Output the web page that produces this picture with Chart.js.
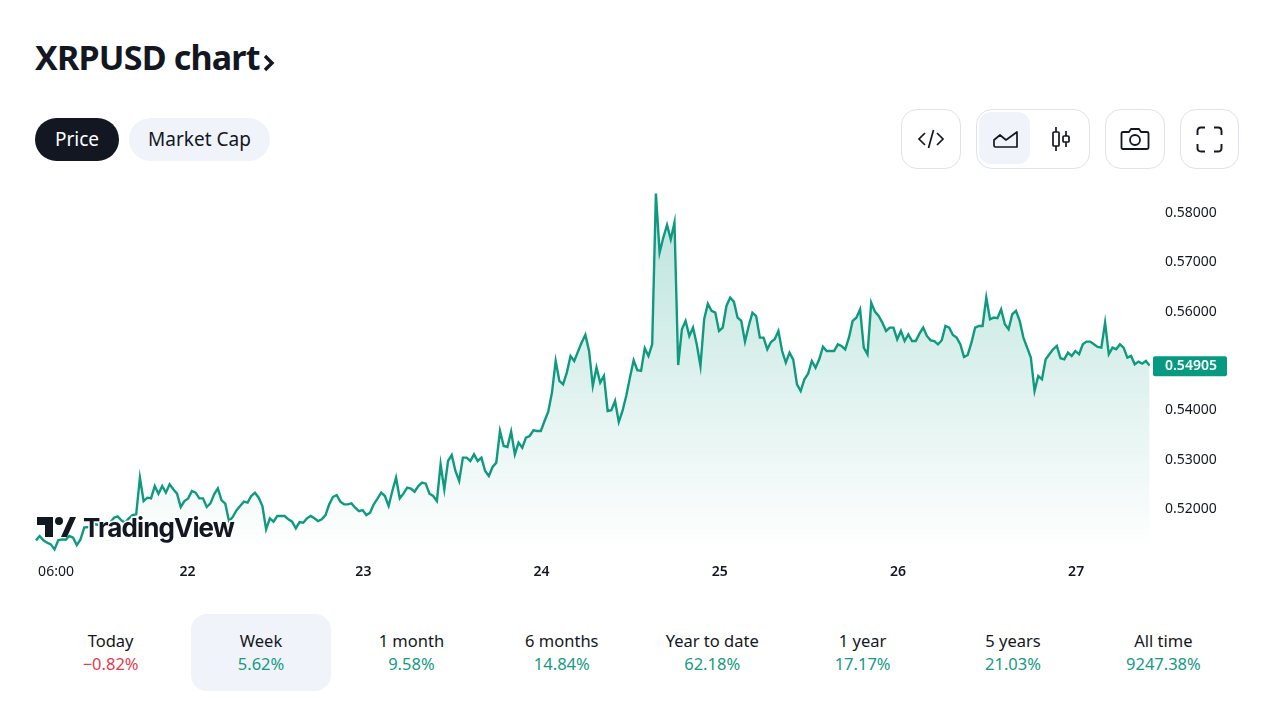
<!DOCTYPE html>
<html>
<head>
<meta charset="utf-8">
<title>XRPUSD chart</title>
<script src="https://cdn.jsdelivr.net/npm/chart.js@4/dist/chart.umd.min.js"></script>
<style>
    html, body { margin: 0; padding: 0; background: #fff; }
    body { width: 1280px; height: 720px; position: relative; overflow: hidden; font-family: "Noto Sans", sans-serif; color: #131722; }
    h1 { position: absolute; left: 35px; top: 34px; margin: 0; font-size: 34px; line-height: 46px; font-weight: 700; letter-spacing: -0.8px; }
    .pill { position: absolute; top: 118px; height: 43px; line-height: 42px; border-radius: 22px; text-align: center; font-size: 19px; }
    #price-pill { left: 35px; width: 84px; background: #131722; color: #fff; }
    #cap-pill { left: 129px; width: 141px; background: #f0f3fa; }
    .tool { position: absolute; top: 109px; height: 58px; border: 1px solid #e0e3eb; border-radius: 16px; box-sizing: content-box; }
    .tool-on { position: absolute; left: 2px; top: 2px; width: 51px; height: 52px; border-radius: 12px; background: #f0f3fa; }
    .tool svg { position: absolute; }
    #chart-wrap { position: absolute; left: 0; top: 160px; width: 1280px; height: 440px; }
    #logo { position: absolute; left: 37px; top: 510px; height: 36px; }
    #logo span { position: absolute; left: 46px; top: 0; font-family: Inter, sans-serif; font-size: 26px; line-height: 36px; font-weight: 700; letter-spacing: -0.9px; -webkit-text-stroke: 3px #fff; paint-order: stroke fill; white-space: nowrap; }
    #periods { position: absolute; left: 0; top: 0; }
    .period { position: absolute; top: 614px; width: 140px; height: 77px; border-radius: 16px; text-align: center; font-size: 16.5px; line-height: 23px; box-sizing: border-box; padding-top: 15px; }
    .period.active { background: #f0f3fa; }
    .up { color: #169a84; }
    .down { color: #e0404d; }
</style>
</head>
<body>
<h1>XRPUSD chart&#8202;<svg width="14" height="20" viewBox="0 0 14 20" style="vertical-align:-3px"><path d="M3 3l7 7-7 7" fill="none" stroke="#131722" stroke-width="3.4"/></svg></h1>
<div class="pill" id="price-pill">Price</div>
<div class="pill" id="cap-pill">Market Cap</div>

<div class="tool" style="left:901px;width:58px">
    <svg style="left:15px;top:17px" width="28" height="24" viewBox="0 0 28 24" fill="none" stroke="#131722" stroke-width="1.7"><path d="M8 6l-6 6 6 6M20 6l6 6-6 6M16.5 3l-5 18"/></svg>
</div>
<div class="tool" style="left:976px;width:112px">
    <div class="tool-on"></div>
    <svg style="left:15px;top:18px" width="28" height="22" viewBox="0 0 28 22" fill="none" stroke="#131722" stroke-width="1.7" stroke-linejoin="round"><path d="M2 12l6-5 6 5 11-8v15H3.500q-1.500 0-1.500-1.500z"/></svg>
    <svg style="left:72px;top:16px" width="24" height="26" viewBox="0 0 24 26" fill="none" stroke="#131722" stroke-width="1.7"><path d="M7 1v5M7 20v5M17 5v5M17 16v5"/><rect x="4" y="6" width="6" height="14" rx="1"/><rect x="14" y="10" width="6" height="6" rx="1"/></svg>
</div>
<div class="tool" style="left:1105px;width:58px">
    <svg style="left:14px;top:17px" width="30" height="24" viewBox="0 0 30 24" fill="none" stroke="#131722" stroke-width="1.8" stroke-linejoin="round"><path d="M3 5h6l2-3h8l2 3h6q1.500 0 1.500 1.500v14q0 1.500-1.500 1.500H3q-1.500 0-1.500-1.500v-14Q1.500 5 3 5z"/><circle cx="15" cy="13" r="5"/></svg>
</div>
<div class="tool" style="left:1180px;width:57px">
    <svg style="left:15px;top:16px" width="27" height="27" viewBox="0 0 27 27" fill="none" stroke="#131722" stroke-width="1.9"><path d="M1.500 9V5q0-3.500 3.500-3.500h4M18 1.500h4q3.500 0 3.500 3.500v4M25.500 18v4q0 3.500-3.500 3.500h-4M9 25.500H5q-3.500 0-3.500-3.500v-4"/></svg>
</div>

<div id="chart-wrap"><canvas id="price-chart" width="1280" height="440"></canvas></div>

<div id="logo">
    <svg width="40" height="36" viewBox="0 0 40 36" fill="#131722"><path d="M0 7h16v20H8V15H0zM24 27l9-20h6l-9 20z"/><circle cx="22" cy="11" r="4"/></svg>
    <span>TradingView</span>
</div>

<div id="periods"></div>

<script>
// Half-hourly prices, first point is 21st 03:30
const startHour = 3.5;
const stepHours = 0.5;
const prices = [
    0.51364, 0.51452, 0.51364, 0.51316, 0.51283, 0.51181, 0.51364, 0.51384, 0.51377, 0.51452,
    0.51418, 0.51269, 0.51384, 0.51621, 0.51634, 0.51654, 0.51688, 0.51675, 0.51654, 0.51688,
    0.51722, 0.51823, 0.51850, 0.51769, 0.51722, 0.51810, 0.51877, 0.51891, 0.52634, 0.52161,
    0.52229, 0.52215, 0.52465, 0.52310, 0.52465, 0.52330, 0.52499, 0.52398, 0.52310, 0.52040,
    0.52161, 0.52215, 0.52364, 0.52330, 0.52215, 0.52215, 0.52040, 0.52114, 0.52296, 0.52418,
    0.52175, 0.52107, 0.51756, 0.51837, 0.51972, 0.52060, 0.52148, 0.52127, 0.52263, 0.52330,
    0.52229, 0.52060, 0.51587, 0.51810, 0.51742, 0.51857, 0.51857, 0.51857, 0.51789, 0.51742,
    0.51607, 0.51735, 0.51722, 0.51810, 0.51857, 0.51810, 0.51756, 0.51789, 0.51877, 0.52094,
    0.52242, 0.52283, 0.52148, 0.52094, 0.52094, 0.52114, 0.52026, 0.51958, 0.51979, 0.51877,
    0.51925, 0.52094, 0.52209, 0.52330, 0.52263, 0.52060, 0.52364, 0.52634, 0.52215, 0.52310,
    0.52432, 0.52411, 0.52351, 0.52465, 0.52533, 0.52513, 0.52310, 0.52263, 0.52161, 0.52905,
    0.52398, 0.52972, 0.53094, 0.52770, 0.52567, 0.53040, 0.53040, 0.52972, 0.53108, 0.52972,
    0.53040, 0.52770, 0.52668, 0.52851, 0.52939, 0.53580, 0.53276, 0.53256, 0.53567, 0.53107,
    0.53344, 0.53242, 0.53445, 0.53479, 0.53594, 0.53580, 0.53580, 0.53783, 0.53972, 0.54358,
    0.55000, 0.54594, 0.54527, 0.54763, 0.55101, 0.55000, 0.55189, 0.55372, 0.55527, 0.55203,
    0.54493, 0.54865, 0.54560, 0.54696, 0.53986, 0.54000, 0.54189, 0.53763, 0.53986, 0.54290,
    0.54662, 0.55013, 0.54811, 0.54797, 0.55257, 0.55101, 0.55336, 0.58392, 0.57196, 0.57500,
    0.57757, 0.57466, 0.57804, 0.54917, 0.55641, 0.55810, 0.55506, 0.55675, 0.55337, 0.54897,
    0.55844, 0.56161, 0.56013, 0.55979, 0.55607, 0.55675, 0.56114, 0.56283, 0.56202, 0.55877,
    0.55810, 0.55391, 0.55708, 0.55979, 0.55911, 0.55472, 0.55472, 0.55235, 0.55384, 0.55438,
    0.55607, 0.55201, 0.54965, 0.55168, 0.55026, 0.54525, 0.54390, 0.54627, 0.54742, 0.54999,
    0.54863, 0.55033, 0.55289, 0.55201, 0.55201, 0.55201, 0.55337, 0.55303, 0.55235, 0.55472,
    0.55810, 0.55877, 0.56046, 0.55269, 0.55134, 0.56182, 0.55999, 0.55911, 0.55776, 0.55607,
    0.55675, 0.55675, 0.55438, 0.55607, 0.55404, 0.55539, 0.55404, 0.55404, 0.55553, 0.55675,
    0.55506, 0.55418, 0.55404, 0.55337, 0.55419, 0.55709, 0.55676, 0.55527, 0.55473, 0.55338,
    0.55081, 0.55121, 0.55371, 0.55676, 0.55709, 0.55709, 0.56284, 0.55845, 0.55878, 0.55865,
    0.56047, 0.55743, 0.55642, 0.55946, 0.56014, 0.55811, 0.55473, 0.55270, 0.55067, 0.54391,
    0.54695, 0.54628, 0.55033, 0.55135, 0.55236, 0.55304, 0.55054, 0.55033, 0.55169, 0.55101,
    0.55202, 0.55135, 0.55338, 0.55392, 0.55392, 0.55338, 0.55284, 0.55270, 0.55777, 0.55135,
    0.55270, 0.55236, 0.55338, 0.55270, 0.55067, 0.55101, 0.54932, 0.54986, 0.54946, 0.55000,
    0.54905
];
const lastPrice = 0.54905;

const xTickHours = [6.2, 23.9, 47.6, 71.6, 95.6, 119.6, 143.6];
const xTickLabels = ['06:00', '22', '23', '24', '25', '26', '27'];
const yTickValues = [0.52, 0.53, 0.54, 0.56, 0.57, 0.58]; // 0.55 sits under the price tag

const periodNames = ['Today', 'Week', '1 month', '6 months', 'Year to date', '1 year', '5 years', 'All time'];
const periodChanges = ['\u22120.82%', '5.62%', '9.58%', '14.84%', '62.18%', '17.17%', '21.03%', '9247.38%'];
const activePeriod = 1;

const periodsEl = document.getElementById('periods');
periodNames.forEach(function(name, i) {
    const el = document.createElement('div');
    el.className = 'period' + (i === activePeriod ? ' active' : '');
    el.style.left = (40.6 + i * 150.4) + 'px';
    const cls = periodChanges[i].charAt(0) === '\u2212' ? 'down' : 'up';
    el.innerHTML = name + '<br><span class="' + cls + '">' + periodChanges[i] + '</span>';
    periodsEl.appendChild(el);
});

// Green tag with the last price, sits over the y axis
const lastPriceTag = {
    id: 'lastPriceTag',
    afterDraw(chart) {
        const ctx = chart.ctx;
        const y = chart.scales.y.getPixelForValue(lastPrice);
        ctx.save();
        ctx.fillStyle = '#089981';
        ctx.beginPath();
        ctx.roundRect(1153, y - 9.5, 74, 20, 2);
        ctx.fill();
        ctx.fillStyle = '#fff';
        ctx.font = '600 14px "Noto Sans", sans-serif';
        ctx.textBaseline = 'middle';
        ctx.fillText(lastPrice.toFixed(5), 1165, y + 0.5);
        ctx.restore();
    }
};

const chart = new Chart(document.getElementById('price-chart'), {
    type: 'line',
    data: {
        datasets: [{
            data: prices.map((p, i) => ({ x: startHour + i * stepHours, y: p })),
            borderColor: '#0f9a80',
            borderWidth: 2.4,
            pointRadius: 0,
            tension: 0,
            fill: 'start',
            backgroundColor: function(context) {
                const area = context.chart.chartArea;
                if (!area) return 'transparent';
                const grad = context.chart.ctx.createLinearGradient(0, area.top + 10, 0, area.bottom);
                grad.addColorStop(0, 'rgba(8,153,129,0.28)');
                grad.addColorStop(1, 'rgba(8,153,129,0)');
                return grad;
            }
        }]
    },
    options: {
        responsive: false,
        animation: false,
        layout: { padding: { left: 35, top: 10, right: 0, bottom: 0 } },
        plugins: { legend: { display: false }, tooltip: { enabled: false } },
        scales: {
            x: {
                type: 'linear',
                min: 3.37,
                max: 153.55,
                grid: { display: false, drawTicks: false },
                border: { display: false },
                afterBuildTicks: axis => { axis.ticks = xTickHours.map(v => ({ value: v })); },
                afterFit: axis => { axis.height = 48; },
                ticks: {
                    autoSkip: false,
                    maxRotation: 0,
                    padding: 12,
                    color: '#131722',
                    font: ctx => ({ family: '"Noto Sans", sans-serif', size: 14, weight: ctx.index === 0 ? 'normal' : '600' }),
                    callback: (v, i) => xTickLabels[i]
                }
            },
            y: {
                position: 'right',
                min: 0.51128,
                max: 0.58598,
                grid: { display: false, drawTicks: false },
                border: { display: false },
                afterBuildTicks: axis => { axis.ticks = yTickValues.map(v => ({ value: v })); },
                afterFit: axis => { axis.width = 130; },
                ticks: {
                    padding: 15,
                    color: '#131722',
                    font: { family: '"Noto Sans", sans-serif', size: 14 },
                    callback: v => v.toFixed(5)
                }
            }
        }
    },
    plugins: [lastPriceTag]
});
</script>
</body>
</html>
